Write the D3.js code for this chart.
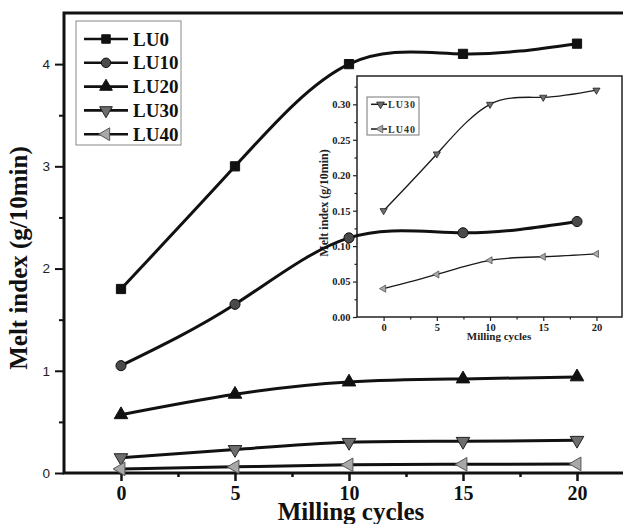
<!DOCTYPE html>
<html>
<head>
<meta charset="utf-8">
<script src="https://cdn.jsdelivr.net/npm/d3@7"></script>
<style>
  html, body { margin: 0; padding: 0; background: #fff; }
  svg { display: block; }
</style>
</head>
<body>
<svg id="chart" width="623" height="524"></svg>
<script>
// Melt index vs. milling cycles for the LU series
const cycles = [0, 5, 10, 15, 20];
const seriesNames = ["LU0", "LU10", "LU20", "LU30", "LU40"];
const lu0  = [1.80, 3.00, 4.00, 4.10, 4.20];
const lu10 = [1.05, 1.65, 2.30, 2.35, 2.46];
const lu20 = [0.57, 0.77, 0.89, 0.92, 0.94];
const lu30 = [0.15, 0.23, 0.30, 0.31, 0.32];
const lu40 = [0.040, 0.060, 0.080, 0.085, 0.089];

const xTicks = [0, 5, 10, 15, 20];
const xMinorTicks = [-2.5, 2.5, 7.5, 12.5, 17.5, 22.5];
const mainYTicks = [0, 1, 2, 3, 4];
const mainYMinorTicks = [0.5, 1.5, 2.5, 3.5, 4.5];
const insetYTicks = [0, 0.05, 0.10, 0.15, 0.20, 0.25, 0.30];
const insetYMinorTicks = [0.025, 0.075, 0.125, 0.175, 0.225, 0.275, 0.325];
const insetNames = ["LU30", "LU40"];

const mainValues = [lu0, lu10, lu20, lu30, lu40];
const insetValues = [lu30, lu40];

const SERIF = "'Liberation Serif', 'Times New Roman', serif";
const SANS = "'Liberation Sans', Arial, sans-serif";

// marker styles per series
const markerStyle = [
  { type: d3.symbolSquare,   rot: 0,   fill: "#111", stroke: "#111" },
  { type: d3.symbolCircle,   rot: 0,   fill: "#4a4a4a", stroke: "#111" },
  { type: d3.symbolTriangle, rot: 0,   fill: "#111", stroke: "#111" },
  { type: d3.symbolTriangle, rot: 180, fill: "#6e6e6e", stroke: "#222" },
  { type: d3.symbolTriangle, rot: -90, fill: "#a8a8a8", stroke: "#555" }
];

const svg = d3.select("#chart");

// ---------- main plot ----------
const x = d3.scaleLinear().domain([-2.5, 22.5]).range([64, 634]);
const y = d3.scaleLinear().domain([0, 4.5]).range([473, 13]);

const line = d3.line()
  .x((d, i) => x(cycles[i]))
  .y(d => y(d))
  .curve(d3.curveNatural);

// frame (right side falls outside the drawing)
svg.append("rect")
  .attr("x", x.range()[0]).attr("y", y.range()[1])
  .attr("width", x.range()[1] - x.range()[0])
  .attr("height", y.range()[0] - y.range()[1])
  .attr("fill", "none").attr("stroke", "#111").attr("stroke-width", 3);

// y axis
const yAxis = svg.append("g")
  .attr("transform", `translate(${x.range()[0]},0)`)
  .call(d3.axisLeft(y).tickValues(mainYTicks).tickFormat(d3.format("d")).tickSize(9).tickPadding(5));
yAxis.select(".domain").remove();
yAxis.selectAll("line").attr("stroke", "#111").attr("stroke-width", 2);
yAxis.selectAll("text").attr("font-family", SANS).attr("font-size", 13.5).attr("fill", "#222");

const yMinor = svg.append("g")
  .attr("transform", `translate(${x.range()[0]},0)`)
  .call(d3.axisLeft(y).tickValues(mainYMinorTicks.filter(v => v < 4.5)).tickFormat("").tickSize(5));
yMinor.select(".domain").remove();
yMinor.selectAll("line").attr("stroke", "#111").attr("stroke-width", 2);

// x axis
const xAxis = svg.append("g")
  .attr("transform", `translate(0,${y.range()[0]})`)
  .call(d3.axisBottom(x).tickValues(xTicks).tickFormat(d3.format("d")).tickSize(8));
xAxis.select(".domain").remove();
xAxis.selectAll("line").attr("stroke", "#111").attr("stroke-width", 2.5);
xAxis.selectAll("text")
  .attr("y", 27).attr("dy", 0)
  .attr("font-family", SERIF).attr("font-weight", "bold").attr("font-size", 20).attr("fill", "#111");

const xMinor = svg.append("g")
  .attr("transform", `translate(0,${y.range()[0]})`)
  .call(d3.axisBottom(x).tickValues(xMinorTicks.filter(v => v > -2.5)).tickFormat("").tickSize(4));
xMinor.select(".domain").remove();
xMinor.selectAll("line").attr("stroke", "#111").attr("stroke-width", 2.5);

// axis titles
svg.append("text")
  .attr("transform", "translate(27,258) rotate(-90)")
  .attr("text-anchor", "middle")
  .attr("font-family", SERIF).attr("font-weight", "bold").attr("font-size", 25).attr("fill", "#111")
  .text("Melt index (g/10min)");

svg.append("text")
  .attr("x", 351).attr("y", 520)
  .attr("text-anchor", "middle")
  .attr("font-family", SERIF).attr("font-weight", "bold").attr("font-size", 25).attr("fill", "#111")
  .text("Milling cycles");

// main legend
const legend = svg.append("g");
legend.append("rect")
  .attr("x", 76).attr("y", 21).attr("width", 105).attr("height", 124)
  .attr("fill", "#fff").attr("stroke", "#888").attr("stroke-width", 1);
seriesNames.forEach((name, i) => {
  const ly = 39 + i * 23.8;
  const m = markerStyle[i];
  legend.append("line")
    .attr("x1", 84).attr("x2", 128).attr("y1", ly).attr("y2", ly)
    .attr("stroke", "#111").attr("stroke-width", 2.6);
  legend.append("path")
    .attr("d", d3.symbol().type(m.type).size(i === 0 ? 72 : 70)())
    .attr("transform", `translate(106,${ly}) rotate(${m.rot})`)
    .attr("fill", m.fill).attr("stroke", m.stroke).attr("stroke-width", 1);
  legend.append("text")
    .attr("x", 133).attr("y", ly).attr("dy", "0.35em")
    .attr("font-family", SERIF).attr("font-weight", "bold").attr("font-size", 19).attr("fill", "#111")
    .text(name);
});

// ---------- inset ----------
const xi = d3.scaleLinear().domain([-2.5, 22.4]).range([357, 622]);
const yi = d3.scaleLinear().domain([0, 0.34]).range([317, 76]);

const inset = svg.append("g");
inset.append("rect")
  .attr("x", xi.range()[0]).attr("y", yi.range()[1])
  .attr("width", xi.range()[1] - xi.range()[0])
  .attr("height", yi.range()[0] - yi.range()[1])
  .attr("fill", "#fff").attr("stroke", "#222").attr("stroke-width", 1.5);

const iyAxis = inset.append("g")
  .attr("transform", `translate(${xi.range()[0]},0)`)
  .call(d3.axisLeft(yi).tickValues(insetYTicks).tickFormat(d3.format(".2f")).tickSize(4).tickPadding(2.5));
iyAxis.select(".domain").remove();
iyAxis.selectAll("line").attr("stroke", "#222").attr("stroke-width", 1.2);
iyAxis.selectAll("text").attr("font-family", SERIF).attr("font-weight", "bold").attr("font-size", 10.5).attr("fill", "#222");

const iyMinor = inset.append("g")
  .attr("transform", `translate(${xi.range()[0]},0)`)
  .call(d3.axisLeft(yi).tickValues(insetYMinorTicks).tickFormat("").tickSize(2.5));
iyMinor.select(".domain").remove();
iyMinor.selectAll("line").attr("stroke", "#222").attr("stroke-width", 1.2);

const ixAxis = inset.append("g")
  .attr("transform", `translate(0,${yi.range()[0]})`)
  .call(d3.axisBottom(xi).tickValues(xTicks).tickFormat(d3.format("d")).tickSize(4));
ixAxis.select(".domain").remove();
ixAxis.selectAll("line").attr("stroke", "#222").attr("stroke-width", 1.2);
ixAxis.selectAll("text")
  .attr("y", 14).attr("dy", 0)
  .attr("font-family", SERIF).attr("font-weight", "bold").attr("font-size", 10.5).attr("fill", "#222");

const ixMinor = inset.append("g")
  .attr("transform", `translate(0,${yi.range()[0]})`)
  .call(d3.axisBottom(xi).tickValues(xMinorTicks.filter(v => v > -2.5 && v < 22.4)).tickFormat("").tickSize(2.5));
ixMinor.select(".domain").remove();
ixMinor.selectAll("line").attr("stroke", "#222").attr("stroke-width", 1.2);

inset.append("text")
  .attr("transform", "translate(328,203) rotate(-90)")
  .attr("text-anchor", "middle")
  .attr("font-family", SERIF).attr("font-weight", "bold").attr("font-size", 12).attr("fill", "#222")
  .text("Melt index (g/10min)");

inset.append("text")
  .attr("x", 499).attr("y", 340)
  .attr("text-anchor", "middle")
  .attr("font-family", SERIF).attr("font-weight", "bold").attr("font-size", 11).attr("fill", "#222")
  .text("Milling cycles");

const insetLine = d3.line()
  .x((d, i) => xi(cycles[i]))
  .y(d => yi(d))
  .curve(d3.curveNatural);

insetValues.forEach((vals, k) => {
  const m = markerStyle[k + 3];
  inset.append("path")
    .attr("d", insetLine(vals))
    .attr("fill", "none").attr("stroke", "#1a1a1a").attr("stroke-width", 1.3);
  inset.selectAll(null).data(vals).enter().append("path")
    .attr("d", d3.symbol().type(m.type).size(22)())
    .attr("transform", (d, i) => `translate(${xi(cycles[i])},${yi(d)}) rotate(${m.rot})`)
    .attr("fill", m.fill).attr("stroke", m.stroke).attr("stroke-width", 0.8);
});

// inset legend
inset.append("rect")
  .attr("x", 367).attr("y", 97).attr("width", 52).attr("height", 38)
  .attr("fill", "#fff").attr("stroke", "#777").attr("stroke-width", 1);
insetNames.forEach((name, k) => {
  const ly = 104.3 + k * 24.7;
  const m = markerStyle[k + 3];
  inset.append("line")
    .attr("x1", 371).attr("x2", 387).attr("y1", ly).attr("y2", ly)
    .attr("stroke", "#1a1a1a").attr("stroke-width", 1.5);
  inset.append("path")
    .attr("d", d3.symbol().type(m.type).size(26)())
    .attr("transform", `translate(380.5,${ly}) rotate(${m.rot})`)
    .attr("fill", m.fill).attr("stroke", m.stroke).attr("stroke-width", 0.8);
  inset.append("text")
    .attr("x", 388).attr("y", ly).attr("dy", "0.35em")
    .attr("font-family", SERIF).attr("font-weight", "bold").attr("font-size", 10).attr("letter-spacing", 1)
    .attr("fill", "#333")
    .text(name);
});

// ---------- main series (drawn last so they sit above the inset) ----------
mainValues.forEach((vals, k) => {
  const m = markerStyle[k];
  svg.append("path")
    .attr("d", line(vals))
    .attr("fill", "none").attr("stroke", "#111").attr("stroke-width", 3);
  svg.selectAll(null).data(vals).enter().append("path")
    .attr("d", d3.symbol().type(m.type).size(k === 0 ? 85 : 80)())
    .attr("transform", (d, i) => `translate(${x(cycles[i])},${y(d)}) rotate(${m.rot})`)
    .attr("fill", m.fill).attr("stroke", m.stroke).attr("stroke-width", 1);
});
</script>
</body>
</html>
